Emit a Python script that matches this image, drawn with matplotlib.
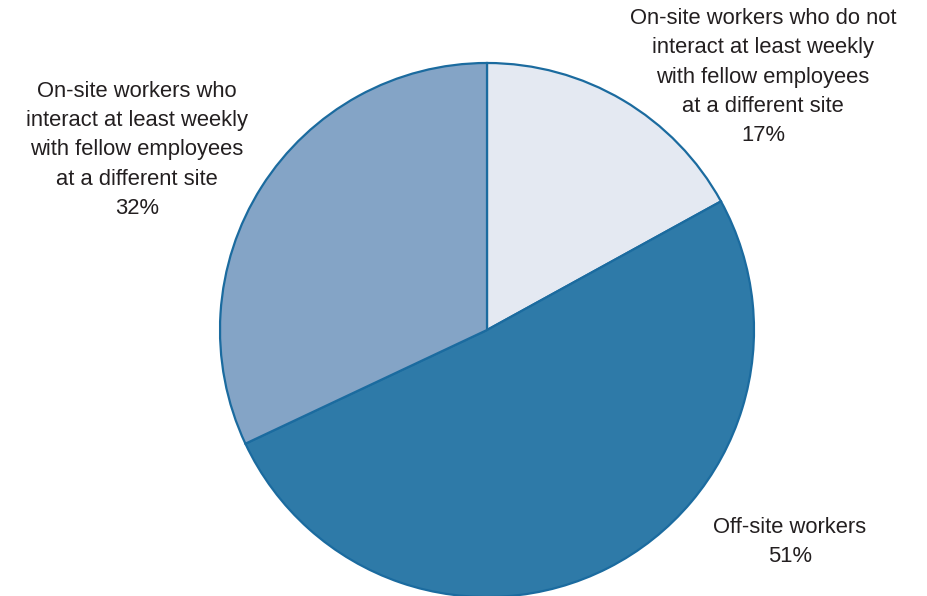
import matplotlib.pyplot as plt

labels = ["On-site workers who do not\ninteract at least weekly\nwith fellow employees\nat a different site",
          "Off-site workers",
          "On-site workers who\ninteract at least weekly\nwith fellow employees\nat a different site"]
shares = [17, 51, 32]
colors = ["#e4e9f2", "#2e7aa8", "#84a4c6"]

plt.rcParams['font.family'] = ['Liberation Sans', 'DejaVu Sans']

fig = plt.figure(figsize=(9.27, 5.96), dpi=100)
ax = fig.add_axes([0, 0, 1, 1])

ax.pie(shares, colors=colors, startangle=90, counterclock=False,
       center=(487, 266), radius=267,
       wedgeprops=dict(edgecolor="#1b6b9f", linewidth=1.6))

# pie resets the limits, so set pixel-like coords afterwards
ax.set_xlim(0, 927)
ax.set_ylim(0, 596)
ax.set_aspect('equal')
ax.axis('off')

# label positions in pixel coords
label_pos = [(763, 519), (790, 54), (137, 446)]
for lab, val, (x, y) in zip(labels, shares, label_pos):
    ax.text(x, y, f"{lab}\n{val}%", ha="center", va="center", fontsize=15.8,
            color="#231f20", linespacing=1.52)

fig.savefig("out.png", dpi=100)
